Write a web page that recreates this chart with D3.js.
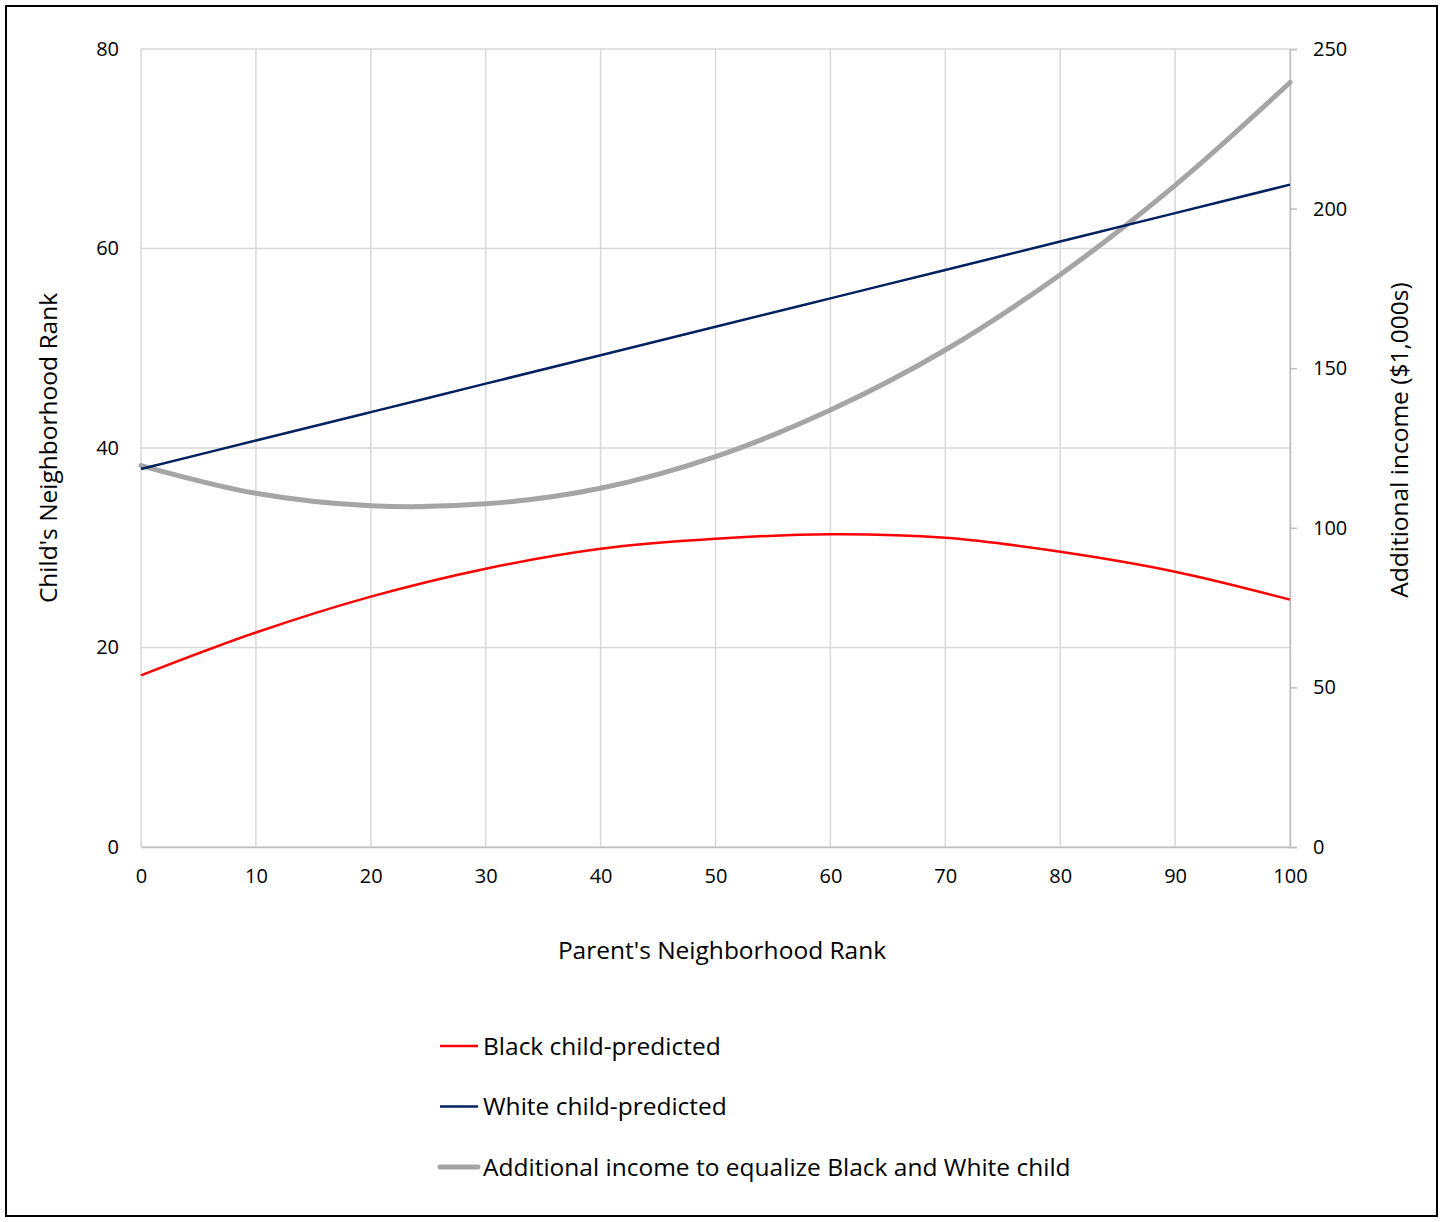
<!DOCTYPE html>
<html>
<head>
<meta charset="utf-8">
<script src="https://cdn.jsdelivr.net/npm/d3@7"></script>
<style>
  body { margin: 0; background: #fff; }
  text { font-family: "Open Sans", Lato, sans-serif; fill: #000; }
</style>
</head>
<body>
<div id="chart"></div>
<script>
// ---------------------------- DATA ----------------------------
var parentRank = [0, 10, 20, 30, 40, 50, 60, 70, 80, 90, 100];
var blackChild = [17.2, 21.5, 25.1, 27.9, 29.9, 30.9, 31.35, 31.0, 29.6, 27.6, 24.8];
var whiteChild = [37.9, 40.75, 43.6, 46.45, 49.3, 52.15, 55.0, 57.85, 60.7, 63.55, 66.4];
var addIncome  = [119.5, 110.8, 106.9, 107.5, 112.4, 122.3, 136.9, 155.7, 179.3, 207.3, 239.5];

var xTicks = [0, 10, 20, 30, 40, 50, 60, 70, 80, 90, 100];
var leftTicks = [0, 20, 40, 60, 80];
var rightTicks = [0, 50, 100, 150, 200, 250];

var seriesNames = ["Black child-predicted", "White child-predicted",
                   "Additional income to equalize Black and White child"];

// ---------------------------- SET UP ----------------------------
var svgWidth = 1443, svgHeight = 1222;
var margin = {left: 141, right: 153, top: 49, bottom: 375};
var width = svgWidth - margin.left - margin.right,
    height = svgHeight - margin.top - margin.bottom;

var svg = d3.select("#chart").append("svg")
    .attr("width", svgWidth)
    .attr("height", svgHeight);

// outer frame
svg.append("rect")
    .attr("x", 6).attr("y", 6)
    .attr("width", 1431).attr("height", 1210)
    .attr("fill", "none")
    .attr("stroke", "#000")
    .attr("stroke-width", 2);

var g = svg.append("g")
    .attr("transform", `translate(${margin.left}, ${margin.top})`);

// ---------------------------- SCALES ----------------------------
var x = d3.scaleLinear().domain([0, 100]).range([0, width]);
var yLeft = d3.scaleLinear().domain([0, 80]).range([height, 0]);
var yRight = d3.scaleLinear().domain([0, 250]).range([height, 0]);

// ---------------------------- GRID ----------------------------
g.append("g")
  .selectAll("line")
  .data(leftTicks)
  .enter().append("line")
    .attr("x1", 0).attr("x2", width)
    .attr("y1", d => yLeft(d)).attr("y2", d => yLeft(d))
    .attr("stroke", "#d9d9d9").attr("stroke-width", 1.5);

g.append("g")
  .selectAll("line")
  .data(xTicks)
  .enter().append("line")
    .attr("x1", d => x(d)).attr("x2", d => x(d))
    .attr("y1", 0).attr("y2", height)
    .attr("stroke", "#d9d9d9").attr("stroke-width", 1.5);

// ---------------------------- AXES ----------------------------
var xAxis = g.append("g")
    .attr("transform", `translate(0, ${height})`)
    .call(d3.axisBottom(x).tickValues(xTicks).tickSize(0).tickPadding(22));

var leftAxis = g.append("g")
    .call(d3.axisLeft(yLeft).tickValues(leftTicks).tickSize(0).tickPadding(22));

var rightAxis = g.append("g")
    .attr("transform", `translate(${width}, 0)`)
    .call(d3.axisRight(yRight).tickValues(rightTicks).tickSize(7).tickPadding(16));

[xAxis, leftAxis, rightAxis].forEach(function(a) {
  a.selectAll("text").style("font-size", "20px").attr("fill", "#000");
  a.selectAll("line").attr("stroke", "#bfbfbf").attr("stroke-width", 1.5);
  a.select(".domain").attr("stroke", "#bfbfbf").attr("stroke-width", 1.5);
});
leftAxis.select(".domain").remove();
xAxis.selectAll("text").attr("dy", "0.71em");

// ---------------------------- LINES ----------------------------
var leftLine = d3.line()
    .x((d, i) => x(parentRank[i]))
    .y(d => yLeft(d))
    .curve(d3.curveCatmullRom.alpha(0.5));
var rightLine = d3.line()
    .x((d, i) => x(parentRank[i]))
    .y(d => yRight(d))
    .curve(d3.curveCatmullRom.alpha(0.5));

g.append("path")
    .attr("d", rightLine(addIncome))
    .attr("fill", "none")
    .attr("stroke", "#a5a5a5")
    .attr("stroke-width", 5)
    .attr("stroke-linecap", "round");

g.append("path")
    .attr("d", leftLine(whiteChild))
    .attr("fill", "none")
    .attr("stroke", "#002060")
    .attr("stroke-width", 2.5);

g.append("path")
    .attr("d", leftLine(blackChild))
    .attr("fill", "none")
    .attr("stroke", "#ff0000")
    .attr("stroke-width", 2.5);

// ---------------------------- LABELS ----------------------------
svg.append("text")
    .attr("x", 722).attr("y", 959)
    .attr("text-anchor", "middle")
    .style("font-size", "24.5px")
    .text("Parent's Neighborhood Rank");

svg.append("text")
    .attr("transform", "translate(57, 448) rotate(-90)")
    .attr("text-anchor", "middle")
    .style("font-size", "24.5px")
    .text("Child's Neighborhood Rank");

svg.append("text")
    .attr("transform", "translate(1408, 440) rotate(-90)")
    .attr("text-anchor", "middle")
    .style("font-size", "24.5px")
    .text("Additional income ($1,000s)");

// ---------------------------- LEGEND ----------------------------
var legendColors = ["#ff0000", "#002060", "#a5a5a5"];
var legendWidths = [2.5, 2.5, 5];
var legend = svg.append("g").attr("transform", "translate(438, 1046)");

var items = legend.selectAll("g")
    .data(seriesNames)
    .enter().append("g")
    .attr("transform", (d, i) => `translate(0, ${i * 60.5})`);

items.append("line")
    .attr("x1", 2).attr("x2", 40)
    .attr("y1", 0).attr("y2", 0)
    .attr("stroke", (d, i) => legendColors[i])
    .attr("stroke-width", (d, i) => legendWidths[i])
    .attr("stroke-linecap", (d, i) => i === 2 ? "round" : "butt");

items.append("text")
    .attr("x", 45).attr("y", 0)
    .attr("dy", "0.35em")
    .style("font-size", "24.5px")
    .text(d => d);
</script>
</body>
</html>
